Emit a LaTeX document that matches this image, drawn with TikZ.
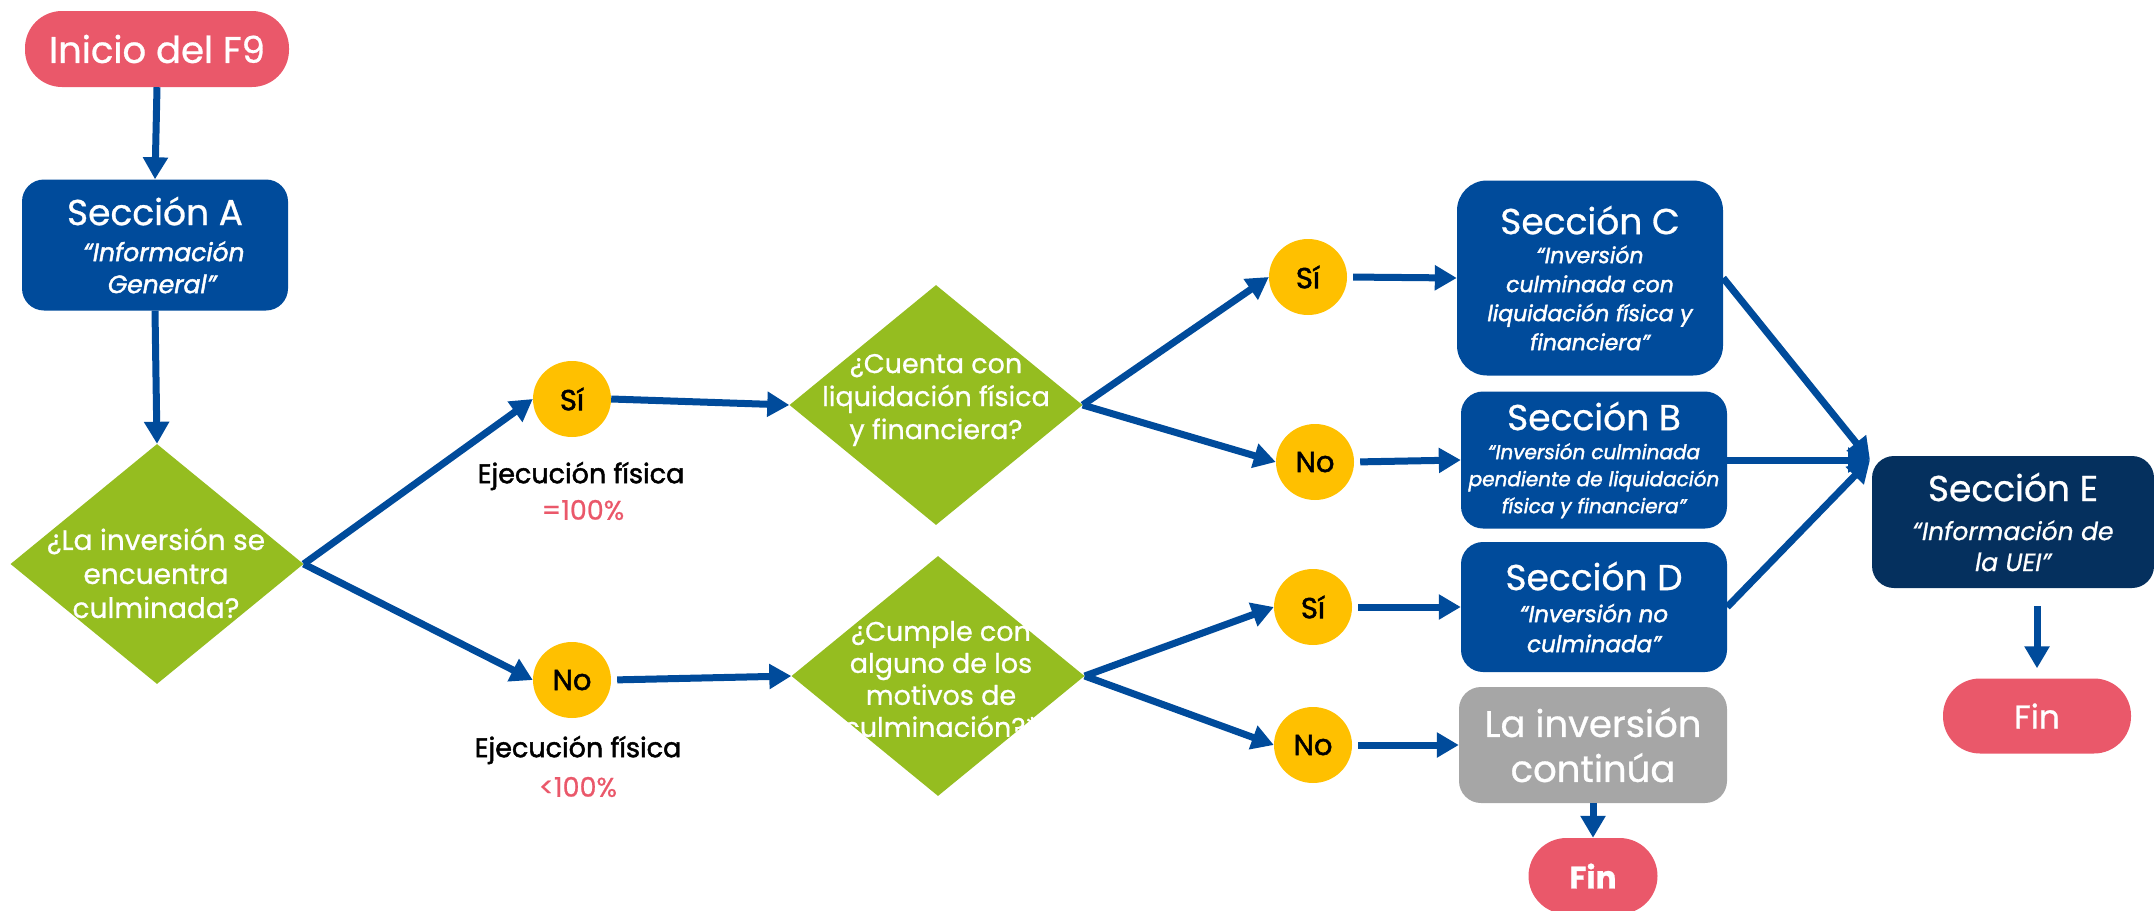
\documentclass[tikz,border=0pt]{standalone}
\usepackage{fontspec}
\setmainfont{Poppins}[FakeBold=0.8]
\newfontfamily\medfont{Poppins}[FakeBold=1.8]
\usetikzlibrary{shapes.geometric,arrows.meta}
\definecolor{cpink}{RGB}{234,88,106}
\definecolor{cblue}{RGB}{0,75,155}
\definecolor{cnavy}{RGB}{5,48,94}
\definecolor{cgreen}{RGB}{149,189,32}
\definecolor{cyellow}{RGB}{255,192,0}
\definecolor{cgrey}{RGB}{166,166,166}
\newcommand{\ttlsize}{\fontsize{36}{40}\selectfont\normalfont\upshape}
\begin{document}
\begin{tikzpicture}[x=1pt,y=-1pt,
  arr/.style={draw=cblue, line width=7pt, -{Triangle[length=22pt,width=24pt]}},
  pill/.style={fill=cpink, text=white, rounded corners=37pt, inner sep=0pt},
  secbox/.style={fill=cblue, text=white, rounded corners=22pt, inner sep=0pt, align=center,
                 minimum width=266pt, font=\medfont\fontsize{22}{29}\selectfont\itshape},
  dia/.style={diamond, fill=cgreen, minimum width=293pt, minimum height=240pt, inner sep=0pt},
  dtext/.style={text=white, align=center, font=\fontsize{27}{33}\selectfont},
  ynode/.style={ellipse, fill=cyellow, minimum width=78pt, minimum height=76pt, inner sep=0pt,
                font=\medfont\fontsize{29}{30}\selectfont},
  etext/.style={text=black, font=\medfont\fontsize{27}{30}\selectfont},
  ptext/.style={text=cpink, font=\fontsize{27}{30}\selectfont}
]
\useasboundingbox (0,0) rectangle (2154,910);

% start / end
\node[pill, minimum width=264pt, minimum height=76pt, font=\fontsize{37}{40}\selectfont] (start) at (157,49) {Inicio del F9};
\node[pill, minimum width=188pt, minimum height=75pt, font=\fontsize{33}{36}\selectfont] (fin1) at (2037,716) {Fin};
\node[pill, minimum width=129pt, minimum height=76pt, rounded corners=38pt, font=\fontsize{31}{36}\selectfont\bfseries] (fin2) at (1593,876) {Fin};

% sections
\node[secbox, minimum height=131pt, font=\medfont\fontsize{25}{32}\selectfont\itshape] (A) at (155,245)
  {{\ttlsize Sección A}\\[4pt]\hspace*{18pt}“Información\\\hspace*{14pt}General”};
\node[secbox, minimum height=195pt, rounded corners=30pt] (C) at (1590,278)
  {{\ttlsize Sección C}\\[0pt]“Inversión\\culminada con\\liquidación física y\\financiera”};
\node[secbox, minimum height=137pt, font=\medfont\fontsize{20}{27}\selectfont\itshape] (B) at (1594,460)
  {{\ttlsize Sección B}\\[2pt]“Inversión culminada\\pendiente de liquidación\\física y financiera”};
\node[secbox, minimum height=130pt, font=\medfont\fontsize{23}{30}\selectfont\itshape] (D) at (1594,607)
  {{\ttlsize Sección D}\\[2pt]“Inversión no\\culminada”};
\node[secbox, fill=cnavy, minimum width=282pt, minimum height=132pt, font=\fontsize{25}{31}\selectfont\itshape] (E) at (2013,522)
  {{\ttlsize Sección E}\\[8pt]“Información de\\la UEI”};
\node[secbox, fill=cgrey, minimum width=268pt, minimum height=116pt, font=\fontsize{37}{45}\selectfont] (G) at (1593,745)
  {La inversión\\continúa};

% decisions
\node[dia] (d1) at (157,564) {};
\node[dtext, font=\fontsize{28}{34}\selectfont] (t1) at (156,573) {¿La inversión se\\encuentra\\culminada?};
\node[dia] (d2) at (936,405) {};
\node[dtext] (t2) at (936,400) {¿Cuenta con\\liquidación física\\y financiera?};
\node[dia] (d3) at (938,676) {};
\node[dtext, font=\fontsize{27}{32}\selectfont] (t3) at (941,679) {¿Cumple con\\alguno de los\\motivos de\\culminación?*};

% yes/no
\node[ynode] (si1) at (572,399) {Sí};
\node[ynode] (no1) at (572,680) {No};
\node[ynode] (si2) at (1308,277) {Sí};
\node[ynode] (no2) at (1315,462) {No};
\node[ynode] (si3) at (1313,607) {Sí};
\node[ynode] (no3) at (1313,745) {No};

% labels
\node[etext] (e1) at (581,476) {Ejecución física};
\node[ptext] (p1) at (583,510) {=100\%};
\node[etext] (e2) at (578,750) {Ejecución física};
\node[ptext] (p2) at (578,787) {<100\%};

\coordinate (conv) at (1870,460);

% arrows
\draw[arr] (start.south) -- (A.north);
\draw[arr] (A.south) -- (d1.north);
\draw[arr] (d1.east) -- (si1.west);
\draw[arr] (d1.east) -- (no1.west);
\draw[arr] (si1.east) -- (d2.west);
\draw[arr, shorten <=6pt] (no1.east) -- (d3.west);
\draw[arr] (d2.east) -- (si2.west);
\draw[arr] (d2.east) -- (no2.west);
\draw[arr] (d3.east) -- (si3.west);
\draw[arr] (d3.east) -- (no3.west);
\draw[arr, shorten <=6pt] (si2.east) -- (C.west);
\draw[arr, shorten <=6pt] (no2.east) -- (B.west);
\draw[arr, shorten <=6pt] (si3.east) -- (D.west);
\draw[arr, shorten <=6pt] (no3.east) -- (G.west);
\draw[arr] (C.east) -- (conv);
\draw[arr] (B.east) -- (conv);
\draw[arr] (D.east) -- (conv);
\draw[arr, shorten <=18pt, shorten >=10pt] (E.south -| fin1.north) -- (fin1.north);
\draw[arr] (G.south) -- (fin2.north);
\end{tikzpicture}
\end{document}
